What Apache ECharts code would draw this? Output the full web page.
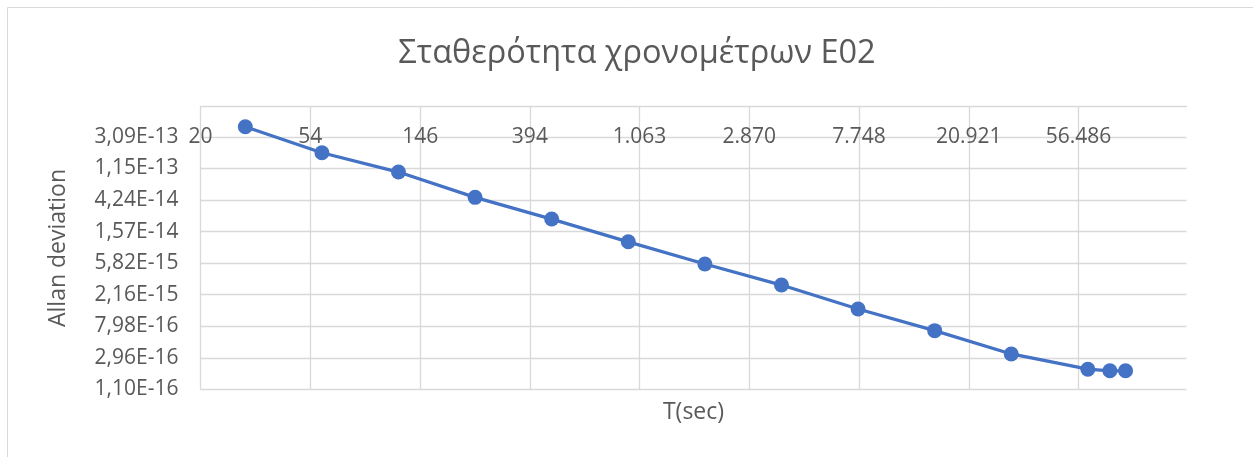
<!DOCTYPE html>
<html>
<head>
<meta charset="utf-8">
<title>Σταθερότητα χρονομέτρων E02</title>
<script src="https://cdn.jsdelivr.net/npm/echarts@6/dist/echarts.min.js"></script>
<style>
  html, body { margin: 0; padding: 0; background: #ffffff; }
  #chart { width: 1253px; height: 457px; }
</style>
</head>
<body>
<div id="chart"></div>
<script>
// Averaging times (s) and Allan deviation for clock E02
const tau  = [30, 60, 120, 240, 480, 960, 1920, 3840, 7680, 15360, 30720, 61440, 75000, 86400];
const adev = [4.23e-13, 1.87e-13, 1.02e-13, 4.61e-14, 2.33e-14, 1.14e-14, 5.67e-15,
              2.93e-15, 1.38e-15, 6.99e-16, 3.36e-16, 2.08e-16, 1.98e-16, 1.98e-16];

// Tick positions on both logarithmic axes (step factor 2.7)
const xTicks = [20, 54, 146, 394, 1063, 2870, 7748, 20921, 56486];
const yTicks = [1.10e-16, 2.96e-16, 7.98e-16, 2.16e-15, 5.82e-15, 1.57e-14, 4.24e-14, 1.15e-13, 3.09e-13];

const FONT = '"Open Sans", "Noto Sans", sans-serif';
const TEXT = '#595959';
const GRID = '#d9d9d9';

// Greek number formats: '.' groups thousands, ',' is the decimal mark
const fmtX = v => String(Math.round(v)).replace(/\B(?=(\d{3})+(?!\d))/g, '.');
const fmtY = v => {
  const s = Number(v).toExponential(2);           // e.g. 1.10e-16
  const [m, e] = s.split('e');
  const sign = e[0] === '-' ? '-' : '+';
  let d = e.replace(/^[+-]/, '');
  if (d.length < 2) d = '0' + d;
  return m.replace('.', ',') + 'E' + sign + d;
};

const chart = echarts.init(document.getElementById('chart'), null, { renderer: 'canvas' });

chart.setOption({
  backgroundColor: '#ffffff',
  animation: false,
  textStyle: { fontFamily: FONT },
  title: {
    text: 'Σταθερότητα χρονομέτρων E02',
    left: 632,
    textAlign: 'center',
    top: 32,
    textStyle: { fontFamily: FONT, fontSize: 32.5, fontWeight: 'normal', color: TEXT }
  },
  graphic: [{
    type: 'rect',
    shape: { x: 7.5, y: 7.5, width: 1270, height: 470 },
    style: { fill: null, stroke: GRID, lineWidth: 1 },
    silent: true,
    z: -1
  }],
  grid: { left: 200.5, right: 66.5, top: 106.5, bottom: 67.5, containLabel: false },
  xAxis: [{
    type: 'log',
    logBase: 2.7,
    position: 'top',
    min: 20,
    max: 150000,
    axisLine: { show: true, lineStyle: { color: GRID, width: 1.3 } },
    axisTick: { show: false, customValues: xTicks },
    splitLine: { show: true, lineStyle: { color: GRID, width: 1.3 } },
    axisLabel: {
      inside: true,
      margin: 20,
      customValues: xTicks,
      formatter: fmtX,
      fontFamily: FONT, fontSize: 21, color: TEXT
    }
  }, {
    // Bottom axis only carries the axis title
    type: 'log',
    logBase: 2.7,
    position: 'bottom',
    min: 20,
    max: 150000,
    name: 'T(sec)',
    nameLocation: 'middle',
    nameGap: 11,
    nameTextStyle: { fontFamily: FONT, fontSize: 23, color: TEXT, verticalAlign: 'top' },
    axisLine: { show: false },
    axisTick: { show: false },
    axisLabel: { show: false },
    splitLine: { show: false }
  }],
  yAxis: {
    type: 'log',
    logBase: 2.7,
    min: 1.10e-16,
    max: 8e-13,
    name: 'Allan deviation',
    nameLocation: 'middle',
    nameGap: 131,
    nameTextStyle: { fontFamily: FONT, fontSize: 23, color: TEXT },
    axisLine: { show: false },
    axisTick: { show: false, customValues: yTicks },
    splitLine: { show: true, lineStyle: { color: GRID, width: 1.3 } },
    axisLabel: {
      margin: 22,
      customValues: yTicks,
      formatter: fmtY,
      fontFamily: FONT, fontSize: 21, color: TEXT
    }
  },
  series: [{
    type: 'line',
    xAxisIndex: 0,
    data: tau.map((t, i) => [t, adev[i]]),
    symbol: 'circle',
    symbolSize: 15,
    showAllSymbol: true,
    lineStyle: { color: '#4472C4', width: 3.3 },
    itemStyle: { color: '#4472C4' },
    z: 3
  }]
});
</script>
</body>
</html>
